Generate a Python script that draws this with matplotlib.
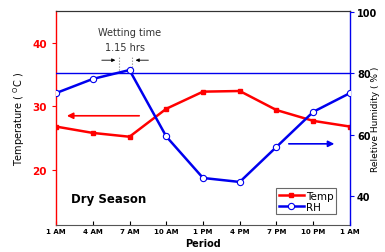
import matplotlib.pyplot as plt
import numpy as np

# data
periods = ['1 AM', '4 AM', '7 AM', '10 AM', '1 PM', '4 PM', '7 PM', '10 PM', '1 AM']
temp = [26.8, 25.8, 25.2, 29.6, 32.3, 32.4, 29.4, 27.7, 26.8]
rh = [73.5, 78.1, 81.0, 59.4, 45.9, 44.6, 56.0, 67.4, 73.5]
rh_line = 80

x = np.arange(len(periods))

fig = plt.figure(figsize=(3.85, 2.53), dpi=100)
ax1 = fig.add_axes([0.1455, 0.1067, 0.7635, 0.8459])
ax2 = ax1.twinx()

# temperature (left axis)
ax1.plot(x, temp, '-s', color='red', lw=1.8, ms=3.5, zorder=3)
ax1.set_xlim(0, 8)
ax1.set_ylim(11.3, 45.0)
ax1.set_yticks([20, 30, 40])
ax1.tick_params(axis='y', colors='red', labelsize=7.5, length=3, width=0.8, direction='out')
for t in ax1.get_yticklabels():
    t.set_fontweight('bold')
ax1.set_ylabel('Temperature ( $^{\\mathrm{O}}$C )', fontsize=7, labelpad=4)
ax1.spines['left'].set_color('red')
ax1.spines['left'].set_linewidth(1.0)
ax1.spines['right'].set_visible(False)
ax1.spines['top'].set_color('#333333')
ax1.spines['bottom'].set_color('#555555')

ax1.set_xticks(x)
ax1.set_xticklabels(periods, fontsize=5, fontweight='bold')
ax1.tick_params(axis='x', direction='in', length=3, width=0.8, pad=2)
ax1.set_xlabel('Period', fontsize=7, fontweight='bold', labelpad=3)

# relative humidity (right axis)
ax2.plot(x, rh, '-o', color='#0000ee', lw=1.8, ms=4.5, mfc='white', mec='#0000ee', mew=0.8, zorder=4)
ax2.axhline(rh_line, color='#0000ee', lw=1.0)
ax2.set_ylim(30.6, 100.2)
ax2.set_yticks([40, 60, 80, 100])
ax2.tick_params(axis='y', colors='#0000ee', labelcolor='black', labelsize=7, length=3, width=0.8, pad=2)
for t in ax2.get_yticklabels():
    t.set_fontweight('bold')
ax2.spines['right'].set_color('#0000ee')
ax2.spines['right'].set_linewidth(1.0)
ax2.spines['left'].set_visible(False)
ax2.spines['top'].set_color('#333333')
ax2.spines['bottom'].set_visible(False)
fig.text(0.976, 0.53, 'Reletive Humidity ( % )', rotation=90, ha='center', va='center', fontsize=6.5)

# direction arrows
ax1.annotate('', xy=(0.22, 28.5), xytext=(2.34, 28.5),
             arrowprops=dict(arrowstyle='-|>', color='red', lw=1.2, mutation_scale=9))
ax2.annotate('', xy=(7.65, 57), xytext=(6.26, 57),
             arrowprops=dict(arrowstyle='-|>', color='#0000ee', lw=1.2, mutation_scale=9))

# wetting time annotation
for xv in [1.71, 2.07]:
    ax2.plot([xv, xv], [rh_line, 85.5], ls=':', color='gray', lw=0.8)
ax2.annotate('', xy=(1.69, 84.2), xytext=(1.17, 84.2),
             arrowprops=dict(arrowstyle='-|>', color='black', lw=0.6, mutation_scale=5))
ax2.annotate('', xy=(2.09, 84.2), xytext=(2.59, 84.2),
             arrowprops=dict(arrowstyle='-|>', color='black', lw=0.6, mutation_scale=5))
ax2.text(1.99, 93.5, 'Wetting time', ha='center', va='center', fontsize=7, color='#333333')
ax2.text(1.88, 88.6, '1.15 hrs', ha='center', va='center', fontsize=7, color='#333333')

ax1.text(0.4, 15.4, 'Dry Season', fontsize=8.5, fontweight='bold', va='center')

# legend
h1, = ax1.plot([], [], '-s', color='red', lw=1.8, ms=3.5)
h2, = ax1.plot([], [], '-o', color='#0000ee', lw=1.8, ms=4.5, mfc='white', mew=0.8)
leg = ax2.legend([h1, h2], ['Temp', 'RH'], loc='lower right', fontsize=7.5,
                 frameon=True, fancybox=False, edgecolor='#444444', handlelength=2.4,
                 handletextpad=0.2, borderpad=0.25, labelspacing=0.1,
                 bbox_to_anchor=(0.97, 0.025))
leg.get_frame().set_linewidth(0.8)

fig.savefig('out.png', dpi=100)
